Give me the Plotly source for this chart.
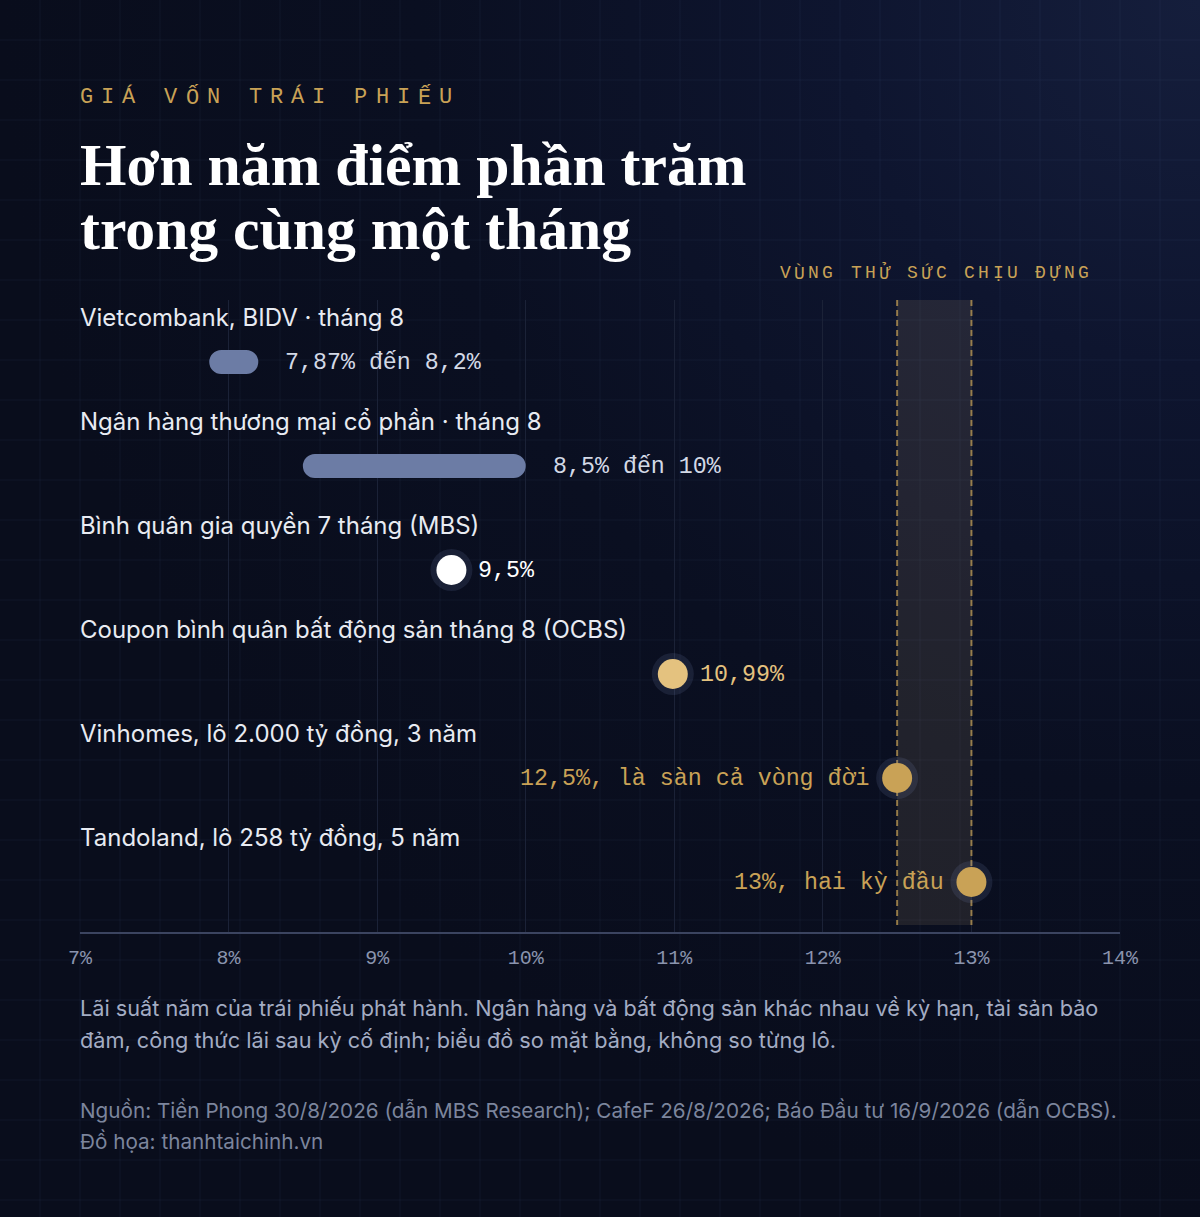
import unicodedata
import plotly.graph_objects as go

# ---------------- data ----------------
categories = [
    "Vietcombank, BIDV · tháng 8",
    "Ngân hàng thương mại cổ phần · tháng 8",
    "Bình quân gia quyền 7 tháng (MBS)",
    "Coupon bình quân bất động sản tháng 8 (OCBS)",
    "Vinhomes, lô 2.000 tỷ đồng, 3 năm",
    "Tandoland, lô 258 tỷ đồng, 5 năm",
]
range_rows = [0, 1]
range_low = [7.87, 8.5]
range_high = [8.2, 10.0]
range_labels = ["7,87% đến 8,2%", "8,5% đến 10%"]

point_rows = [2, 3, 4, 5]
point_values = [9.5, 10.99, 12.5, 13.0]
point_labels = ["9,5%", "10,99%", "12,5%, là sàn cả vòng đời", "13%, hai kỳ đầu"]
point_label_side = ["right", "right", "left", "left"]

band_low, band_high = 12.5, 13.0
band_label = "VÙNG THỬ SỨC CHỊU ĐỰNG"
x_ticks = [7, 8, 9, 10, 11, 12, 13, 14]
x_range = [7, 14]

kicker = "GIÁ VỐN TRÁI PHIẾU"
title_lines = ["Hơn năm điểm phần trăm", "trong cùng một tháng"]
note_lines = [
    "Lãi suất năm của trái phiếu phát hành. Ngân hàng và bất động sản khác nhau về kỳ hạn, tài sản bảo",
    "đảm, công thức lãi sau kỳ cố định; biểu đồ so mặt bằng, không so từng lô.",
]
source_lines = [
    "Nguồn: Tiền Phong 30/8/2026 (dẫn MBS Research); CafeF 26/8/2026; Báo Đầu tư 16/9/2026 (dẫn OCBS).",
    "Đồ họa: thanhtaichinh.vn",
]

# ---------------- style ----------------
W, H = 1200, 1217
BG = "#0a0f1f"
GOLD = "#c9a256"
LIGHT_GOLD = "#e4c27f"
BAR = "#6c7ca5"
BAR_TEXT = "#d3d9e6"
LABEL = "#e8ebf2"
TICK = "#8a94ae"
NOTE = "#a3acc3"
SOURCE = "#7c859d"
GRID = "#1b2237"
MONO = "Liberation Mono"
SANS = "Inter"
SERIF = "Liberation Serif"
point_colors = ["#ffffff", LIGHT_GOLD, GOLD, GOLD]
point_text_colors = ["#ffffff", LIGHT_GOLD, GOLD, GOLD]

# plot area in pixels
PX_L, PX_R = 80, 1120
PX_TOP, PX_BOT = 300, 932
ROW0_PX, ROW_STEP = 362, 104
y_top = -(ROW0_PX - PX_TOP) / ROW_STEP
y_bot = (len(categories) - 1) + (PX_BOT - (ROW0_PX + ROW_STEP * (len(categories) - 1))) / ROW_STEP
band_bottom = y_bot - 7 / ROW_STEP  # band stops just above the axis line

fig = go.Figure()

# ---- background (pixel-coordinate subplot) ----
fig.add_trace(go.Scatter(
    x=[0, 2 * W, 2 * W, 0, 0], y=[-H, -H, H, H, -H],
    mode="lines", fill="toself", line=dict(width=0),
    fillgradient=dict(type="radial", colorscale=[[0, "#151e3c"], [0.3, "#0e152f"], [0.65, "#0a0f21"], [1, "#090d1c"]]),
    hoverinfo="skip", xaxis="x", yaxis="y", showlegend=False,
))
gx, gy = [], []
for px in range(40, W, 40):
    gx += [px, px, None]
    gy += [0, H, None]
for py in range(40, H, 40):
    gx += [0, W, None]
    gy += [py, py, None]
fig.add_trace(go.Scatter(x=gx, y=gy, mode="lines", line=dict(color="rgba(130,150,210,0.07)", width=1),
                         hoverinfo="skip", xaxis="x", yaxis="y", showlegend=False))

# ---- stress band (drawn as traces, below marks) ----
fig.add_trace(go.Scatter(
    x=[band_low, band_high, band_high, band_low, band_low],
    y=[y_top, y_top, band_bottom, band_bottom, y_top],
    mode="lines", fill="toself", fillcolor="rgba(205,175,120,0.12)", line=dict(width=0),
    hoverinfo="skip", xaxis="x2", yaxis="y2", showlegend=False))
fig.add_trace(go.Scatter(
    x=[band_low, band_low, None, band_high, band_high],
    y=[y_top, band_bottom, None, y_top, band_bottom],
    mode="lines", line=dict(color="rgba(201,162,86,0.7)", width=2, dash="6px,4px"),
    hoverinfo="skip", xaxis="x2", yaxis="y2", showlegend=False))

# ---- range bars (pill shaped) ----
bar_w = 24 / ROW_STEP
fig.add_trace(go.Bar(orientation="h", y=range_rows, base=range_low,
                     x=[h - l for h, l in zip(range_high, range_low)],
                     width=bar_w, marker=dict(color=BAR, cornerradius=12, line=dict(width=0)),
                     hoverinfo="skip", xaxis="x2", yaxis="y2", showlegend=False))

# ---- dots ----
fig.add_trace(go.Scatter(x=point_values, y=point_rows, mode="markers",
                         marker=dict(size=42, color="rgba(140,155,205,0.13)", line=dict(width=0)),
                         hoverinfo="skip", xaxis="x2", yaxis="y2", showlegend=False))
fig.add_trace(go.Scatter(x=point_values, y=point_rows, mode="markers",
                         marker=dict(size=30, color=point_colors, line=dict(width=0)),
                         hoverinfo="skip", xaxis="x2", yaxis="y2", showlegend=False))

# ---- annotations ----
ann = []


def spaced(text, x_left, y, pitch, size, color):
    text = unicodedata.normalize("NFC", text)
    cw = 0.6 * size
    for i, ch in enumerate(text):
        if ch == " ":
            continue
        ann.append(dict(xref="x", yref="y", x=x_left + i * pitch + cw / 2, y=y, text=ch,
                        xanchor="center", yanchor="middle", showarrow=False,
                        font=dict(family=MONO, size=size, color=color)))


spaced(kicker, 80, 97, 21.1, 22, GOLD)
band_size, band_pitch = 18, 14.2
band_center = PX_L + ((band_low + band_high) / 2 - x_range[0]) / (x_range[1] - x_range[0]) * (PX_R - PX_L)
n = len(band_label)
spaced(band_label, band_center - ((n - 1) * band_pitch + 0.6 * band_size) / 2, 273, band_pitch, band_size, GOLD)

for line, yy in zip(title_lines, [165, 229]):
    ann.append(dict(xref="x", yref="y", x=78, y=yy, text="<b>%s</b>" % line, xanchor="left", yanchor="middle",
                    showarrow=False, font=dict(family=SERIF, size=59.7, color="#ffffff")))

for r, cat in enumerate(categories):
    ann.append(dict(xref="x2", yref="y2", x=x_range[0], y=r, yshift=45, xshift=-2, text=cat, xanchor="left",
                    yanchor="middle", showarrow=False, font=dict(family=SANS, size=24, color=LABEL)))

for r, h, t in zip(range_rows, range_high, range_labels):
    ann.append(dict(xref="x2", yref="y2", x=h, y=r, xshift=25, yshift=-1, text=t, xanchor="left",
                    yanchor="middle", showarrow=False, font=dict(family=MONO, size=23.3, color=BAR_TEXT)))

for r, v, t, side, c in zip(point_rows, point_values, point_labels, point_label_side, point_text_colors):
    ann.append(dict(xref="x2", yref="y2", x=v, y=r, xshift=25 if side == "right" else -25, yshift=-1, text=t,
                    xanchor="left" if side == "right" else "right", yanchor="middle",
                    showarrow=False, font=dict(family=MONO, size=23.3, color=c)))

for line, yy in zip(note_lines, [1008, 1040]):
    ann.append(dict(xref="x", yref="y", x=78, y=yy, text=line, xanchor="left", yanchor="middle",
                    showarrow=False, font=dict(family=SANS, size=21.7, color=NOTE)))
for line, yy in zip(source_lines, [1110, 1141]):
    ann.append(dict(xref="x", yref="y", x=78, y=yy, text=line, xanchor="left", yanchor="middle",
                    showarrow=False, font=dict(family=SANS, size=20.7, color=SOURCE)))

fig.update_layout(
    width=W, height=H, autosize=False,
    margin=dict(l=0, r=0, t=0, b=0, autoexpand=False),
    paper_bgcolor=BG, plot_bgcolor="rgba(0,0,0,0)",
    barmode="overlay", showlegend=False,
    xaxis=dict(domain=[0, 1], range=[0, W], visible=False, fixedrange=True, automargin=False),
    yaxis=dict(domain=[0, 1], range=[H, 0], visible=False, fixedrange=True, automargin=False),
    xaxis2=dict(domain=[PX_L / W, PX_R / W], range=x_range, anchor="y2", automargin=False,
                tickvals=x_ticks, ticktext=["%d%%" % t for t in x_ticks],
                showgrid=True, gridcolor=GRID, gridwidth=1, zeroline=False,
                showline=True, linecolor="#3b4460", linewidth=2, ticks="",
                tickfont=dict(family=MONO, size=20, color=TICK), ticklabelstandoff=6, fixedrange=True),
    yaxis2=dict(domain=[(H - PX_BOT) / H, (H - PX_TOP) / H], range=[y_bot, y_top], anchor="x2",
                visible=False, fixedrange=True, automargin=False),
    annotations=ann,
)

fig.write_html(
    "out.html",
    config={"displayModeBar": False},
    post_script="document.body.style.margin='0';document.body.style.padding='0';"
                "document.body.style.background='#0a0f1f';document.documentElement.style.overflow='hidden';",
)
